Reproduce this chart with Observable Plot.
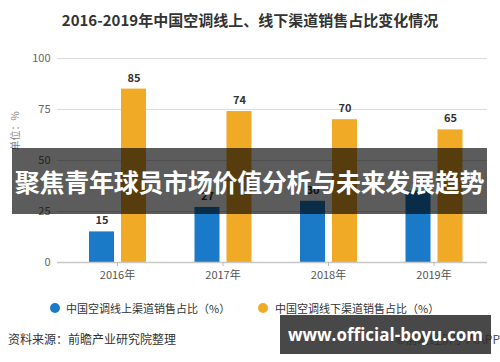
<!DOCTYPE html>
<html>
<head>
<meta charset="utf-8">
<script src="https://cdn.jsdelivr.net/npm/d3@7"></script>
<script src="https://cdn.jsdelivr.net/npm/@observablehq/plot@0.6"></script>
<style>
  html, body { margin: 0; padding: 0; background: #fff; }
  body { width: 500px; height: 362px; position: relative; overflow: hidden;
         font-family: "Noto Sans CJK SC", "Noto Sans", sans-serif; }
  #title { position: absolute; left: 0; top: 0; width: 500px; height: 40px; line-height: 40px;
           text-align: center; font-size: 15px; font-weight: bold; color: #333; }
  #chart { position: absolute; left: 0; top: 40px; }
  #legend { position: absolute; left: 0; top: 298px; width: 500px; height: 20px; font-size: 11px; color: #333; }
  .item { position: absolute; top: 0; height: 20px; line-height: 20px; white-space: nowrap; }
  .dot { position: absolute; top: 5px; width: 10px; height: 10px; border-radius: 50%; }
  #source { position: absolute; left: 8px; top: 329px; font-size: 12px; line-height: 20px; color: #333; }
  #copy { position: absolute; right: 0px; top: 329px; font-size: 12px; line-height: 20px; color: #555; }
  #banner { position: absolute; left: 12px; top: 148px; width: 475px; height: 66px;
            background: rgba(0,0,0,0.64); color: #fff; font-weight: bold; font-size: 25px;
            line-height: 66px; text-align: center; white-space: nowrap; letter-spacing: -0.3px; }
  #badge { position: absolute; left: 280px; top: 315px; width: 211px; height: 39px;
           background: rgba(40,40,40,0.85); color: #fff; font-weight: bold; font-size: 17px;
           line-height: 39px; text-align: center; white-space: nowrap;
           font-family: "Open Sans", "DejaVu Sans", sans-serif; }
</style>
</head>
<body>
<div id="title"></div>
<div id="chart"></div>
<div id="legend"></div>
<div id="source"></div>
<div id="copy"></div>
<div id="banner"></div>
<div id="badge"></div>
<script>
const titleText = "2016-2019年中国空调线上、线下渠道销售占比变化情况";
const years = ["2016年", "2017年", "2018年", "2019年"];
const online = [15, 27, 30, 35];
const offline = [85, 74, 70, 65];
const seriesNames = ["中国空调线上渠道销售占比（%）", "中国空调线下渠道销售占比（%）"];
const yTicks = [0, 25, 50, 75, 100];
const yLabel = "单位：%";
const sourceText = "资料来源：前瞻产业研究院整理";
const copyText = "©前瞻经济学人APP";
const bannerText = "聚焦青年球员市场价值分析与未来发展趋势";
const badgeText = "www.official-boyu.com";

const blue = "#1a7ac8";
const orange = "#f0aa25";

const rows = years.map((year, i) => ({year, online: online[i], offline: offline[i]}));

document.getElementById("title").textContent = titleText;

const chart = Plot.plot({
  width: 500,
  height: 250,
  marginTop: 18,
  marginBottom: 28,
  marginLeft: 57,
  marginRight: 13,
  style: {fontFamily: "'Noto Sans CJK SC', 'Noto Sans', sans-serif", background: "transparent"},
  x: {domain: years, range: [64.25, 486.25], padding: 0, round: false},
  y: {domain: [0, 100]},
  marks: [
    Plot.ruleY(yTicks.filter(d => d > 0), {stroke: "#dcdcdc", strokeWidth: 1}),
    Plot.axisY(yTicks, {tickSize: 0, tickPadding: 7, fontSize: 11, fill: "#666", label: null}),
    Plot.text([yLabel], {frameAnchor: "left", dx: -42, dy: -10, rotate: -90, fontSize: 10, fill: "#888"}),
    Plot.barY(rows, {x: "year", y: "online", fill: blue, insetLeft: 24.75, insetRight: 55.75}),
    Plot.barY(rows, {x: "year", y: "offline", fill: orange, insetLeft: 56.75, insetRight: 23.75}),
    Plot.text(rows, {x: "year", y: "online", text: d => String(d.online), dx: -15.5, dy: -11, fontSize: 11, fontWeight: "bold", fill: "#333"}),
    Plot.text(rows, {x: "year", y: "offline", text: d => String(d.offline), dx: 16.5, dy: -11, fontSize: 11, fontWeight: "bold", fill: "#333"}),
    Plot.ruleY([0], {stroke: "#c8c8c8", strokeWidth: 1.5}),
    Plot.axisX({tickSize: 4, tickPadding: 5, fontSize: 11, fill: "#555", stroke: "#bbb", label: null})
  ]
});
document.getElementById("chart").appendChild(chart);

const legend = document.getElementById("legend");
const legendPos = [{dot: 50, text: 66}, {dot: 258, text: 275}];
[blue, orange].forEach((c, i) => {
  const dot = document.createElement("div");
  dot.className = "dot";
  dot.style.left = legendPos[i].dot + "px";
  dot.style.background = c;
  legend.appendChild(dot);
  const t = document.createElement("div");
  t.className = "item";
  t.style.left = legendPos[i].text + "px";
  t.textContent = seriesNames[i];
  legend.appendChild(t);
});

document.getElementById("source").textContent = sourceText;
document.getElementById("copy").textContent = copyText;
document.getElementById("banner").textContent = bannerText;
document.getElementById("badge").textContent = badgeText;
</script>
</body>
</html>
